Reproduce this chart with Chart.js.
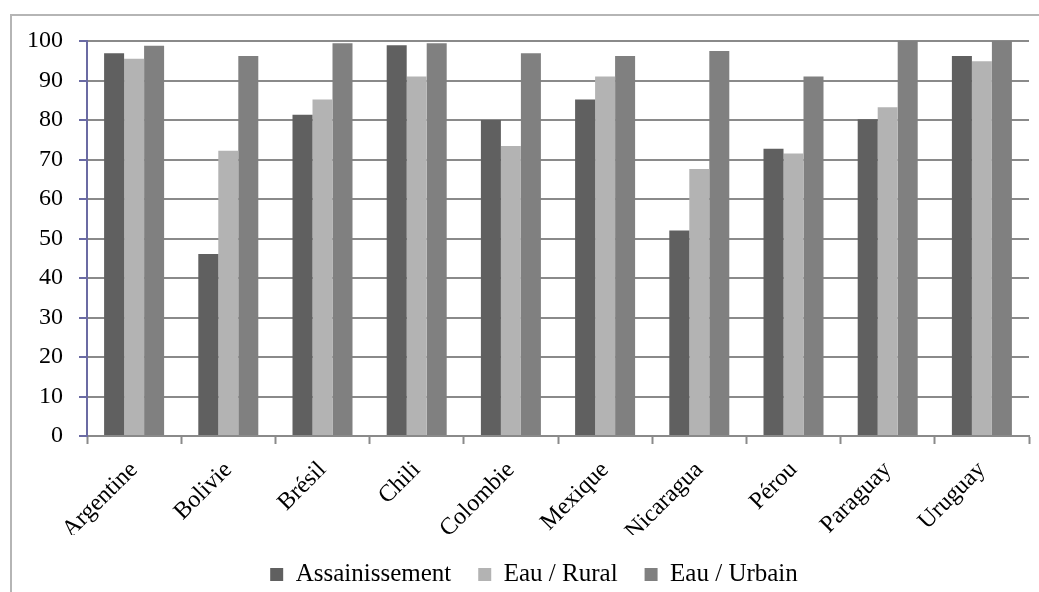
<!DOCTYPE html>
<html>
<head>
<meta charset="utf-8">
<script src="https://cdn.jsdelivr.net/npm/chart.js@4/dist/chart.umd.min.js"></script>
<style>
  html, body { margin: 0; padding: 0; background: #fff; }
  #wrap { width: 1039px; height: 592px; }
</style>
</head>
<body>
<div id="wrap"><canvas id="accesChart" width="1039" height="592"></canvas></div>
<script>
// values
const countries = ["Argentine", "Bolivie", "Brésil", "Chili", "Colombie", "Mexique", "Nicaragua", "Pérou", "Paraguay", "Uruguay"];
const assainissement = [96.9, 46.1, 81.3, 98.9, 80.0, 85.2, 52.0, 72.7, 80.2, 96.2];
const eauRural = [95.5, 72.2, 85.2, 91.0, 73.4, 91.0, 67.6, 71.5, 83.2, 94.9];
const eauUrbain = [98.8, 96.2, 99.4, 99.4, 96.9, 96.2, 97.5, 91.0, 100, 100];

const serif = "'Liberation Serif', 'Times New Roman', serif";
const gridGray = "#8a8a8a";
const axisBlue = "#6b6ba3";

// outer frame of the chart object (top and left edges visible)
const framePlugin = {
  id: "frame",
  beforeDraw(chart) {
    const ctx = chart.ctx;
    ctx.save();
    ctx.fillStyle = "#fff";
    ctx.fillRect(0, 0, chart.width, chart.height);
    ctx.strokeStyle = "#b5b5b5";
    ctx.lineWidth = 2;
    ctx.beginPath();
    ctx.moveTo(11, chart.height);
    ctx.lineTo(11, 15);
    ctx.lineTo(chart.width, 15);
    ctx.stroke();
    ctx.restore();
  }
};

function makeSet(label, data, color) {
  return {
    label: label,
    data: data,
    backgroundColor: color,
    borderWidth: 0,
    categoryPercentage: 0.637,
    barPercentage: 1.0
  };
}

const ctx = document.getElementById("accesChart").getContext("2d");
new Chart(ctx, {
  type: "bar",
  data: {
    labels: countries,
    datasets: [
      makeSet("Assainissement", assainissement, "#606060"),
      makeSet("Eau / Rural", eauRural, "#b3b3b3"),
      makeSet("Eau / Urbain", eauUrbain, "#808080")
    ]
  },
  plugins: [framePlugin],
  options: {
    responsive: false,
    animation: false,
    layout: {
      padding: { left: 20, right: -9, top: 41, bottom: -5 }
    },
    scales: {
      x: {
        grid: {
          offset: true,
          drawOnChartArea: false,
          drawTicks: true,
          tickLength: 8,
          tickColor: gridGray,
          tickWidth: 2
        },
        border: { color: gridGray, width: 2 },
        ticks: {
          color: "#000",
          font: { family: serif, size: 24 },
          maxRotation: 45,
          minRotation: 45,
          padding: 12,
          autoSkip: false
        },
        afterFit(scale) {
          scale.height = 99;
        }
      },
      y: {
        min: 0,
        max: 100,
        ticks: {
          stepSize: 10,
          color: "#000",
          font: { family: serif, size: 24 },
          padding: 16
        },
        grid: {
          color: gridGray,
          lineWidth: 2,
          tickLength: 8,
          tickColor: axisBlue,
          tickWidth: 2
        },
        border: { color: axisBlue, width: 2 },
        afterFit(scale) {
          scale.width = 67;
        }
      },
      // empty spacer on the right so the plot ends where the reference does
      spacer: {
        position: "right",
        ticks: { display: false },
        grid: { display: false },
        border: { display: false },
        afterFit(scale) {
          scale.width = 19;
        }
      }
    },
    plugins: {
      legend: {
        position: "bottom",
        labels: {
          color: "#000",
          font: { family: serif, size: 25 },
          boxWidth: 13,
          boxHeight: 13,
          padding: 27
        }
      },
      tooltip: { enabled: false }
    }
  }
});
</script>
</body>
</html>
